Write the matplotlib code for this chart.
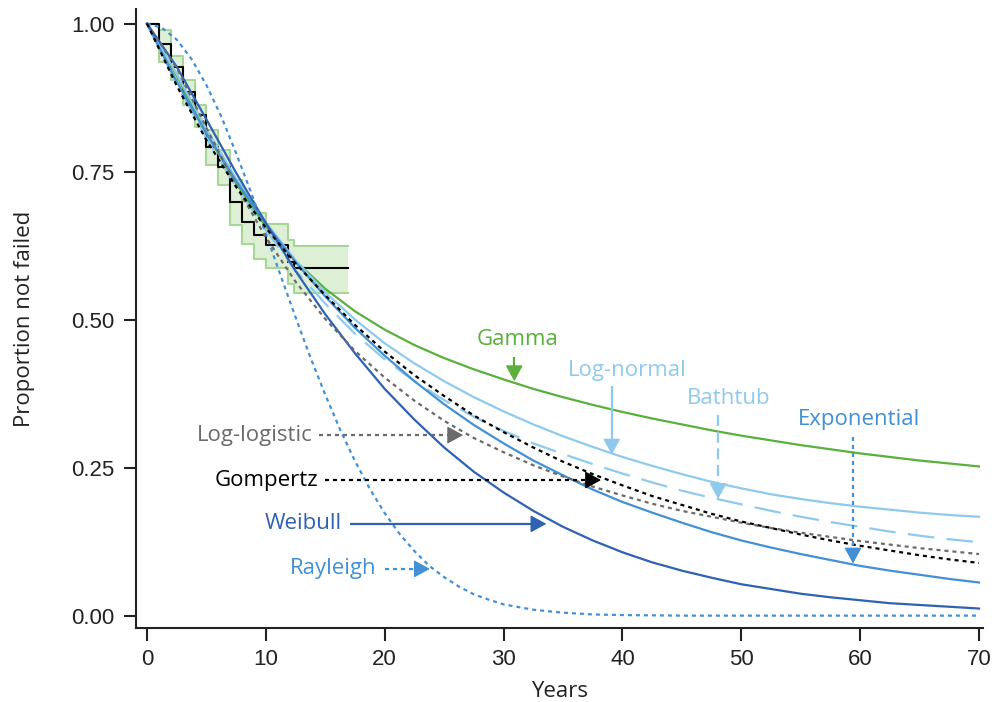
import matplotlib
matplotlib.use("Agg")
import matplotlib.pyplot as plt
import numpy as np
from matplotlib import font_manager

# ---- data -------------------------------------------------------------
years = [0, 2.5, 5, 7.5, 10, 12.5, 15, 17.5, 20, 22.5, 25, 27.5, 30, 32.5, 35,
         37.5, 40, 42.5, 45, 47.5, 50, 52.5, 55, 57.5, 60, 62.5, 65, 67.5, 70]

gamma = [1.000, 0.912, 0.815, 0.730, 0.657, 0.599, 0.552, 0.514, 0.483, 0.457,
         0.435, 0.416, 0.399, 0.383, 0.369, 0.356, 0.344, 0.333, 0.323, 0.313,
         0.304, 0.296, 0.288, 0.281, 0.274, 0.268, 0.262, 0.257, 0.252]
lognormal = [1.000, 0.915, 0.822, 0.738, 0.664, 0.600, 0.546, 0.500, 0.460, 0.426,
             0.396, 0.369, 0.345, 0.323, 0.303, 0.285, 0.268, 0.253, 0.239, 0.226,
             0.215, 0.205, 0.197, 0.190, 0.184, 0.179, 0.174, 0.170, 0.167]
bathtub = [1.000, 0.898, 0.806, 0.724, 0.651, 0.583, 0.527, 0.476, 0.433, 0.396,
           0.364, 0.336, 0.312, 0.291, 0.273, 0.256, 0.240, 0.225, 0.211, 0.199,
           0.188, 0.177, 0.167, 0.158, 0.150, 0.142, 0.135, 0.129, 0.124]
exponential = [1.000, 0.902, 0.814, 0.734, 0.662, 0.597, 0.539, 0.486, 0.439, 0.396,
               0.357, 0.322, 0.291, 0.262, 0.237, 0.213, 0.192, 0.174, 0.157, 0.141,
               0.127, 0.115, 0.104, 0.094, 0.084, 0.076, 0.069, 0.062, 0.056]
gompertz = [1.000, 0.895, 0.803, 0.724, 0.655, 0.595, 0.541, 0.491, 0.446, 0.406,
            0.371, 0.338, 0.310, 0.284, 0.260, 0.239, 0.220, 0.202, 0.187, 0.172,
            0.159, 0.148, 0.137, 0.127, 0.118, 0.110, 0.102, 0.095, 0.089]
loglogistic = [1.000, 0.925, 0.824, 0.726, 0.639, 0.564, 0.501, 0.447, 0.402, 0.363,
               0.329, 0.300, 0.276, 0.254, 0.235, 0.218, 0.203, 0.189, 0.177, 0.167,
               0.157, 0.148, 0.140, 0.133, 0.126, 0.120, 0.114, 0.109, 0.104]
weibull = [1.000, 0.927, 0.838, 0.748, 0.663, 0.582, 0.509, 0.443, 0.383, 0.331,
           0.284, 0.243, 0.208, 0.177, 0.150, 0.127, 0.107, 0.090, 0.076, 0.064,
           0.053, 0.045, 0.037, 0.031, 0.026, 0.021, 0.018, 0.015, 0.012]

# the Rayleigh curve bends sharply, so it is read on a finer grid
rayleigh_years = [0, 1.25, 2.5, 3.75, 5, 6.25, 7.5, 8.75, 10, 11.25, 12.5, 13.75,
                  15, 16.25, 17.5, 18.75, 20, 21.25, 22.5, 23.75, 25, 26.25, 27.5,
                  28.75, 30, 32.5, 35, 37.5, 40, 45, 50, 60, 70]
rayleigh = [1.000, 0.993, 0.973, 0.940, 0.896, 0.843, 0.781, 0.715, 0.645, 0.574,
            0.504, 0.436, 0.373, 0.314, 0.261, 0.214, 0.173, 0.138, 0.109, 0.084,
            0.065, 0.049, 0.036, 0.027, 0.019, 0.010, 0.005, 0.002, 0.001, 0.000,
            0.000, 0.000, 0.000]

# Kaplan-Meier estimate with its confidence band
km_years = [0, 1, 2, 3, 4, 5, 6, 7, 8, 9, 10, 11.9, 12.4, 16.9]
km_surv = [1.000, 0.966, 0.927, 0.885, 0.846, 0.792, 0.758, 0.699, 0.665, 0.643,
           0.626, 0.598, 0.587, 0.587]
km_upper = [1.000, 0.990, 0.945, 0.905, 0.862, 0.820, 0.786, 0.735, 0.700, 0.680,
            0.662, 0.635, 0.624, 0.624]
km_lower = [1.000, 0.935, 0.905, 0.862, 0.826, 0.762, 0.728, 0.660, 0.627, 0.603,
            0.587, 0.560, 0.545, 0.545]

x_ticks = [0, 10, 20, 30, 40, 50, 60, 70]
y_ticks = [0.00, 0.25, 0.50, 0.75, 1.00]
y_tick_labels = ["0.00", "0.25", "0.50", "0.75", "1.00"]

# ---- styling ----------------------------------------------------------
GREEN = "#5ab03c"
LIGHT = "#8fcaee"
MID = "#4290d6"
DARK = "#2f62b5"
GREY = "#6b6b6b"
BLACK = "#000000"
DOT = (0, (1.8, 1.8))
LONGDASH = (0, (12, 5.5))

plt.rcParams["font.family"] = ["Open Sans", "DejaVu Sans"]

installed = {f.name for f in font_manager.fontManager.ttflist}
TICK_FONT = "Liberation Sans Narrow" if "Liberation Sans Narrow" in installed else "Liberation Sans"
TICK_SIZE = 18 if TICK_FONT == "Liberation Sans Narrow" else 16

fig = plt.figure(figsize=(9.95, 7.02), dpi=100)
ax = fig.add_axes([0.1362, 0.1054, 0.8518, 0.8818])

# confidence band and KM step curve
ax.fill_between(km_years, km_lower, km_upper, step="post",
                facecolor="#ddf0d5", edgecolor="none", zorder=1)
ax.step(km_years, km_upper, where="post", color="#a8d697", lw=1.5, zorder=2)
ax.step(km_years, km_lower, where="post", color="#a8d697", lw=1.5, zorder=2)
ax.step(km_years, km_surv, where="post", color=BLACK, lw=1.5, zorder=3)

# fitted survival curves
lw = 1.6
ax.plot(years, gamma, color=GREEN, lw=lw, zorder=4)
ax.plot(years, lognormal, color=LIGHT, lw=lw, zorder=4)
ax.plot(years, bathtub, color=LIGHT, lw=lw, ls=LONGDASH, zorder=4)
ax.plot(years, exponential, color=MID, lw=lw, zorder=4)
ax.plot(years, weibull, color=DARK, lw=lw, zorder=5)
ax.plot(rayleigh_years, rayleigh, color=MID, lw=lw, ls=DOT, zorder=5)
ax.plot(years, loglogistic, color=GREY, lw=lw, ls=DOT, zorder=6)
ax.plot(years, gompertz, color=BLACK, lw=lw, ls=DOT, zorder=6)

ax.set_xlim(-0.967, 70.34)
ax.set_ylim(-0.0209, 1.0247)

# curve labels with pointer arrows
FS = 16
HEAD_PX = 14.0


def pointer(tail, tip, color, ls="-"):
    """Shaft in the curve's line style, solid filled head at the tip."""
    to_px = ax.transData.transform
    p0, p1 = np.array(to_px(tail)), np.array(to_px(tip))
    d = (p1 - p0) / np.linalg.norm(p1 - p0)
    base = ax.transData.inverted().transform(p1 - d * HEAD_PX)
    ax.plot([tail[0], base[0]], [tail[1], base[1]], color=color, lw=1.6, ls=ls,
            solid_capstyle="butt", zorder=7)
    ax.annotate("", xy=tip, xytext=tuple(base),
                arrowprops=dict(arrowstyle="-|>,head_length=0.55,head_width=0.3",
                                color=color, lw=1.0, shrinkA=0, shrinkB=0,
                                mutation_scale=18),
                zorder=7)


# labels on the left with horizontal arrows
ax.text(13.9, 0.305, "Log-logistic", color=GREY, fontsize=FS, ha="right", va="center")
pointer((14.5, 0.305), (26.6, 0.305), GREY, DOT)
ax.text(14.4, 0.229, "Gompertz", color=BLACK, fontsize=FS, ha="right", va="center")
pointer((15.0, 0.229), (38.2, 0.229), BLACK, DOT)
ax.text(16.4, 0.155, "Weibull", color=DARK, fontsize=FS, ha="right", va="center")
pointer((17.1, 0.155), (33.6, 0.155), DARK)
ax.text(19.3, 0.079, "Rayleigh", color=MID, fontsize=FS, ha="right", va="center")
pointer((20.0, 0.079), (23.8, 0.079), MID, DOT)

# labels above with vertical arrows
ax.text(31.2, 0.466, "Gamma", color=GREEN, fontsize=FS, ha="center", va="center")
pointer((30.9, 0.437), (30.9, 0.396), GREEN)
ax.text(40.4, 0.414, "Log-normal", color=LIGHT, fontsize=FS, ha="center", va="center")
pointer((39.1, 0.388), (39.1, 0.272), LIGHT)
ax.text(48.9, 0.367, "Bathtub", color=LIGHT, fontsize=FS, ha="center", va="center")
pointer((48.05, 0.339), (48.05, 0.197), LIGHT, (0, (5, 2.5)))
ax.text(59.9, 0.332, "Exponential", color=MID, fontsize=FS, ha="center", va="center")
pointer((59.4, 0.302), (59.4, 0.088), MID, DOT)

# axes
ax.set_xticks(x_ticks)
ax.set_yticks(y_ticks)
ax.set_yticklabels(y_tick_labels)
for side in ("top", "right"):
    ax.spines[side].set_visible(False)
for side in ("left", "bottom"):
    ax.spines[side].set_linewidth(1.5)
    ax.spines[side].set_color("#222222")
ax.tick_params(axis="both", length=9, width=1.5, color="#222222",
               labelsize=TICK_SIZE, labelcolor="#222222", pad=6,
               labelfontfamily=TICK_FONT)

ax.set_xlabel("Years", fontsize=FS, labelpad=8, color="#222222")
ax.set_ylabel("Proportion not failed", fontsize=FS, labelpad=26, color="#222222")

fig.savefig("out.png", dpi=100)
